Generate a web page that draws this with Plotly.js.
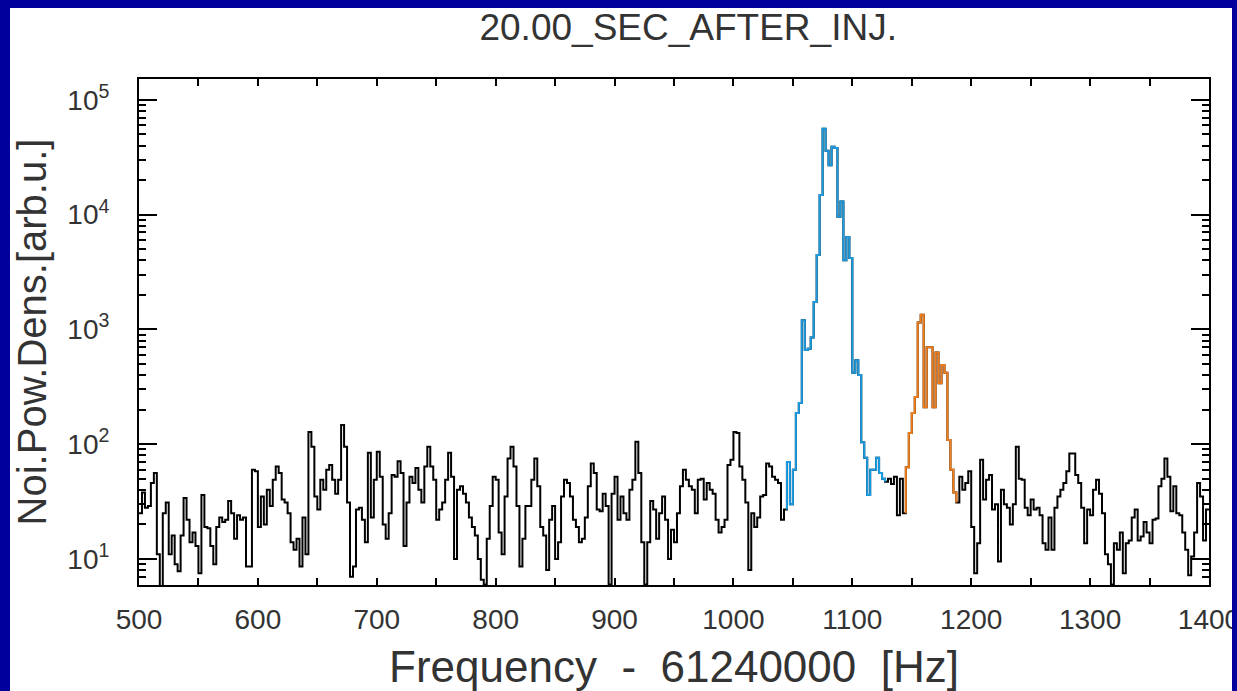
<!DOCTYPE html>
<html>
<head>
<meta charset="utf-8">
<script src="https://cdn.plot.ly/plotly-3.0.1.min.js"></script>
<style>
  html, body { margin: 0; padding: 0; width: 1237px; height: 691px; overflow: hidden; background: #00009c; }
  #chart { position: absolute; left: 10px; top: 8px; width: 1222px; height: 683px; background: #ffffff; overflow: hidden; }
</style>
</head>
<body>
<div id="chart"></div>
<script>
// Spectrum bins: 2.5 Hz wide, starting at 500 Hz (offset from 61240000 Hz)
const binStart = 500;
const binWidth = 2.5;

// Noise floor below the first line (500 - 1045 Hz)
const noiseLow = [
  25, 38, 28, 29, 46, 56, 11, 5, 25, 31,
  11, 16, 9, 7.8, 16, 34, 22, 14, 17, 13,
  7.5, 36, 19, 18.5, 13, 9, 19, 23, 21, 22,
  32, 25, 15, 24, 22, 23, 8.6, 8.6, 60, 58,
  19, 35, 20, 40, 29, 49, 64, 56, 33, 31,
  25, 14, 12, 15, 8.6, 23, 11, 128, 95, 35,
  27, 49, 40, 60, 66, 49, 37, 49, 147, 95,
  31, 7, 8.6, 27, 28, 22, 14, 84, 23, 49,
  86, 52, 20, 15, 25, 54, 52, 71, 56, 13,
  31, 52, 46, 62, 40, 31, 64, 95, 64, 49,
  22, 27, 31, 49, 84, 52, 10, 40, 43, 37,
  31, 23, 19, 16, 10, 6.6, 6, 15, 29, 52,
  49, 17, 11, 35, 75, 95, 64, 29, 8.6, 15,
  29, 29, 49, 75, 43, 19, 16, 8, 22, 29,
  10, 14, 35, 49, 46, 35, 22, 19, 14, 15,
  23, 43, 68, 56, 27, 26, 37, 29, 6, 37,
  52, 22, 35, 25, 22, 40, 49, 105, 56, 14,
  6, 14, 32, 27, 15, 25, 35, 22, 10, 18,
  14, 25, 43, 60, 49, 43, 40, 25, 49, 50,
  33, 46, 40, 37, 22, 17, 19, 22, 66, 73,
  128, 125, 64, 49, 31, 8, 25, 19, 23, 35,
  36, 68, 64, 52, 49, 46, 22, 27
];

// Main line (blue), 1045 - 1127.5 Hz
const lineA = [
  70, 30, 60, 187, 228, 1200, 660, 680, 850, 1730,
  4460, 14800, 56000, 36000, 27000, 39000, 38000, 9600, 13000, 4000,
  6400, 4200, 420, 540, 400, 104, 76, 36, 60, 60,
  76, 56, 50
];

// Noise between the two lines, 1127.5 - 1145 Hz
const noiseMid = [47, 50, 45, 52, 24, 50, 25];

// Second line (orange), 1145 - 1187.5 Hz
const lineB = [
  63, 125, 187, 258, 1150, 1340, 210, 700, 700, 210,
  630, 340, 490, 420, 109, 60, 38
];

// Noise floor above the second line, 1187.5 - 1400 Hz
const noiseHigh = [
  31, 52, 40, 46, 58,
  19, 7.5, 13.7, 73, 33, 49, 54, 27, 30, 9.5,
  40, 30, 28, 20, 30, 95, 50, 49, 28, 24,
  33, 27, 28, 24, 13.7, 12, 23, 12, 28, 35,
  40, 46, 58, 83, 83, 54, 46, 28, 13.7, 27,
  24, 40, 49, 37, 25, 11, 9, 6, 13.7, 12,
  17, 7.5, 13.7, 14.5, 23, 27, 14.5, 15.7, 21, 17,
  13.7, 22, 22.5, 43, 50, 75, 52, 26, 43, 25,
  24, 17, 12, 7.2, 10.5, 17, 46, 35, 14.5, 27
];

// Tick labels
const xTickVals = [500, 600, 700, 800, 900, 1000, 1100, 1200, 1300, 1400];
const yTickVals = [10, 100, 1000, 10000, 100000];
const yTickText = ['10<sup>1</sup>', '10<sup>2</sup>', '10<sup>3</sup>', '10<sup>4</sup>', '10<sup>5</sup>'];

const spectrum = [].concat(noiseLow, lineA, noiseMid, lineB, noiseHigh);
const edge = i => binStart + i * binWidth;

// Step curve over bins [lo, hi], with vertical joins at both ends
function stepSegment(lo, hi) {
  const x = [], y = [];
  const first = Math.max(lo - 1, 0);
  const last = Math.min(hi + 1, spectrum.length - 1);
  for (let i = first; i <= last; i++) {
    x.push(edge(Math.min(Math.max(i, lo), hi + 1)));
    y.push(spectrum[i]);
  }
  if (last === hi) { x.push(edge(hi + 1)); y.push(spectrum[hi]); }
  return { x, y };
}

const aStart = noiseLow.length;
const aEnd = aStart + lineA.length - 1;
const bStart = aEnd + 1 + noiseMid.length;
const bEnd = bStart + lineB.length - 1;

const full = stepSegment(0, spectrum.length - 1);
const segA = stepSegment(aStart, aEnd);
const segB = stepSegment(bStart, bEnd);

const mk = (seg, color) => ({
  type: 'scatter', mode: 'lines', x: seg.x, y: seg.y,
  line: { shape: 'hv', color: color, width: 2 },
  hoverinfo: 'skip', showlegend: false
});

const font = 'Liberation Sans, Arial, sans-serif';
const axisCommon = {
  showgrid: false, zeroline: false,
  showline: true, linecolor: '#000', linewidth: 2, mirror: 'ticks',
  ticks: 'inside', tickcolor: '#000', tickwidth: 2
};

const layout = {
  width: 1222, height: 683,
  margin: { l: 129, r: 23, t: 71, b: 106 },
  paper_bgcolor: '#ffffff', plot_bgcolor: '#ffffff',
  font: { family: font, color: '#333' },
  title: {
    text: '20.00_SEC_AFTER_INJ.',
    font: { family: font, size: 37, color: '#333' },
    xref: 'container', x: 0.555, xanchor: 'center',
    yref: 'container', y: 0.972, yanchor: 'middle'
  },
  xaxis: Object.assign({}, axisCommon, {
    range: [500, 1400], tickmode: 'array', tickvals: xTickVals, ticklen: 7,
    ticklabeloverflow: 'allow',
    minor: { tickmode: 'linear', tick0: 500, dtick: 50, ticks: 'inside', ticklen: 7, tickwidth: 2, tickcolor: '#000' },
    tickfont: { family: font, size: 28, color: '#333' },
    ticklabelstandoff: 8,
    title: { text: 'Frequency  -  61240000  [Hz]', font: { family: font, size: 44, color: '#333' }, standoff: 26 }
  }),
  yaxis: Object.assign({}, axisCommon, {
    type: 'log', range: [Math.log10(5.93), Math.log10(152000)],
    tickmode: 'array', tickvals: yTickVals, ticktext: yTickText, ticklen: 18,
    minor: { dtick: 'D1', ticks: 'inside', ticklen: 7, tickwidth: 2, tickcolor: '#000' },
    tickfont: { family: font, size: 28, color: '#333' },
    ticklabelstandoff: 22,
    title: { text: 'Noi.Pow.Dens.[arb.u.]', font: { family: font, size: 40, color: '#333' }, standoff: 18 }
  })
};

Plotly.newPlot('chart', [mk(full, '#000000'), mk(segA, '#1a9be0'), mk(segB, '#f07d1a')], layout, { staticPlot: true, displayModeBar: false });
</script>
</body>
</html>
